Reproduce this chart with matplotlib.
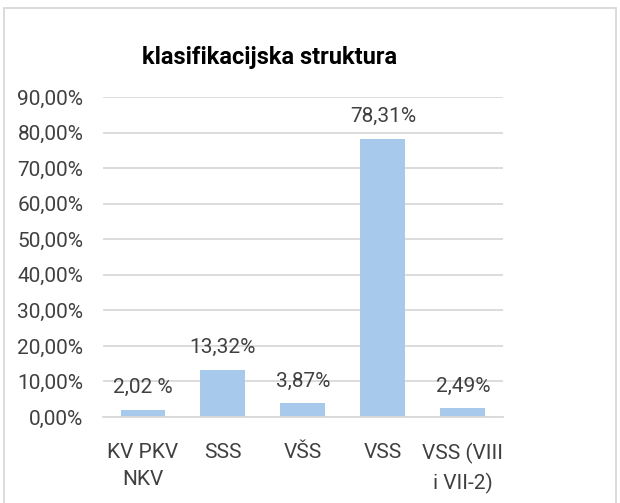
import matplotlib.pyplot as plt
from matplotlib.patches import Rectangle
from matplotlib.ticker import FuncFormatter

categories = ['KV PKV\nNKV', 'SSS', 'VŠS', 'VSS', 'VSS (VIII\ni VII-2)']
values = [2.02, 13.32, 3.87, 78.31, 2.49]
value_labels = ['2,02 %', '13,32%', '3,87%', '78,31%', '2,49%']
yticks = [0, 10, 20, 30, 40, 50, 60, 70, 80, 90]

plt.rcParams['font.family'] = ['Roboto', 'DejaVu Sans']

fig = plt.figure(figsize=(6.2, 5.03), dpi=100)
ax = fig.add_axes([0.166, 0.171, 0.645, 0.636])

x = range(len(categories))
ax.bar(x, values, width=0.56, color='#A7CAEC', zorder=2)
for xi, v, lab in zip(x, values, value_labels):
    ax.annotate(lab, (xi, v), xytext=(0, 9), textcoords='offset points',
                ha='center', va='bottom', fontsize=15, color='#404040')

ax.set_xlim(-0.5, len(categories) - 0.5)
ax.set_ylim(0, 90)
ax.set_yticks(yticks)
ax.yaxis.set_major_formatter(FuncFormatter(lambda v, p: ('%.2f%%' % v).replace('.', ',')))
ax.set_xticks(list(x))
ax.set_xticklabels(categories, fontsize=15, color='#404040', linespacing=1.5, va='top')
ax.tick_params(axis='y', labelsize=15, labelcolor='#404040', length=0, pad=14)
ax.tick_params(axis='x', length=0, pad=19)
ax.grid(axis='y', color='#D9D9D9', linewidth=1.3, zorder=0)
for s in ['top', 'right', 'left']:
    ax.spines[s].set_visible(False)
ax.spines['bottom'].set_color('#D9D9D9')
ax.spines['bottom'].set_linewidth(1.3)

fig.text(0.435, 0.885, 'klasifikacijska struktura', ha='center', va='center',
         fontsize=17, fontweight='bold', color='black')

fig.patches.append(Rectangle((4 / 620, -0.01), 612 / 620, 0.994, transform=fig.transFigure,
                             fill=False, edgecolor='#D9D9D9', linewidth=1.3))

fig.savefig('out.png', dpi=100)
